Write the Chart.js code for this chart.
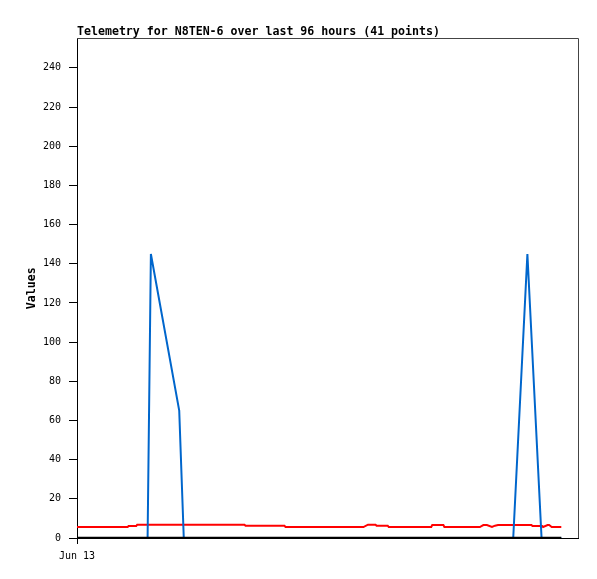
<!DOCTYPE html>
<html>
<head>
<meta charset="utf-8">
<script src="https://cdn.jsdelivr.net/npm/chart.js@4"></script>
<style>
  html, body { margin: 0; padding: 0; background: #fff; }
  #wrap { width: 597px; height: 579px; }
</style>
</head>
<body>
<div id="wrap"><canvas id="myChart" width="597" height="579"></canvas></div>
<script>
// hours since Jun 13 00:00
const redHours = [0, 10.0, 10.2, 11.7, 11.9, 33.1, 33.3, 41.0, 41.2, 56.6, 57.5, 59.0, 59.2, 61.4, 61.6,
  70.0, 70.2, 72.4, 72.6, 79.6, 80.3, 81.0, 82.0, 82.6, 83.2, 89.8, 90.0, 91.9, 92.1, 93.0, 93.3, 93.8, 95.7];
const redValues = [5.6, 5.6, 6.1, 6.1, 6.8, 6.8, 6.3, 6.3, 5.6, 5.6, 6.8, 6.8, 6.3, 6.3, 5.6,
  5.6, 6.6, 6.6, 5.6, 5.6, 6.6, 6.6, 5.6, 6.3, 6.6, 6.6, 6.1, 6.1, 5.6, 6.6, 6.6, 5.6, 5.6];

const blueHours = [0, 13.95, 14.6, 20.2, 21.1, 86.2, 89.0, 91.8, 95.7];
const blueValues = [0, 0, 145, 65, 0, 0, 145, 0, 0];

const blackHours = [0, 95.7];
const blackValues = [0, 0];

const yTicks = [0, 20, 40, 60, 80, 100, 120, 140, 160, 180, 200, 220, 240];
const xTicks = [0];
const xTickLabels = ['Jun 13'];

function pts(xs, ys){
  let out = [];
  for(let i = 0; i < xs.length; i++){
    out.push({x: xs[i], y: ys[i]});
  }
  return out;
}

// grey frame on top and right of plot area
const frame = {
  id: 'frame',
  afterDraw(chart){
    const {ctx, chartArea: a} = chart;
    ctx.save();
    ctx.strokeStyle = '#444';
    ctx.lineWidth = 1;
    ctx.beginPath();
    ctx.moveTo(a.left, Math.floor(a.top) + 0.5);
    ctx.lineTo(Math.floor(a.right) + 0.5, Math.floor(a.top) + 0.5);
    ctx.lineTo(Math.floor(a.right) + 0.5, a.bottom);
    ctx.stroke();
    ctx.restore();
  }
};

Chart.defaults.color = '#000';
Chart.defaults.font.family = '"DejaVu Sans Mono", monospace';

let ctx = document.getElementById('myChart').getContext('2d');
let myChart = new Chart(ctx, {
  type: 'line',
  data: {
    datasets: [
      {
        label: 'zero',
        data: pts(blackHours, blackValues),
        borderColor: '#000',
        borderWidth: 2.5,
        pointRadius: 0
      },
      {
        label: 'blue',
        data: pts(blueHours, blueValues),
        borderColor: '#0066cc',
        borderWidth: 2,
        pointRadius: 0
      },
      {
        label: 'red',
        data: pts(redHours, redValues),
        borderColor: '#ff0000',
        borderWidth: 2,
        pointRadius: 0
      }
    ]
  },
  options: {
    responsive: false,
    animation: false,
    layout: { padding: { left: 0, right: 19, top: 0, bottom: 0 } },
    plugins: {
      legend: { display: false },
      tooltip: { enabled: false },
      title: {
        display: true,
        text: 'Telemetry for N8TEN-6 over last 96 hours (41 points)',
        align: 'start',
        fullSize: false,
        color: '#000',
        font: { family: '"DejaVu Sans Mono", monospace', size: 11.6, weight: 'bold' },
        padding: { top: 24.6, bottom: 0 }
      }
    },
    scales: {
      x: {
        type: 'linear',
        min: 0,
        max: 99,
        afterBuildTicks: (s) => { s.ticks = xTicks.map(v => ({value: v})); },
        afterFit: (s) => { s.height = 41; },
        grid: { display: true, drawOnChartArea: false, drawTicks: true, tickLength: 6, color: '#000' },
        border: { display: true, color: '#000', width: 1 },
        ticks: {
          padding: 6,
          maxRotation: 0,
          font: { size: 10 },
          callback: function(value, index){ return xTickLabels[index]; }
        }
      },
      y: {
        min: 0,
        max: 255,
        afterBuildTicks: (s) => { s.ticks = yTicks.map(v => ({value: v})); },
        afterFit: (s) => { s.width = 77; },
        grid: { display: true, drawOnChartArea: false, drawTicks: true, tickLength: 8, color: '#000' },
        border: { display: true, color: '#000', width: 1 },
        ticks: { padding: 8, font: { size: 10 } },
        title: {
          display: true,
          text: 'Values',
          font: { size: 11.6, weight: 'bold' },
          padding: { top: 25, bottom: 0 }
        }
      }
    }
  },
  plugins: [frame]
});
</script>
</body>
</html>
